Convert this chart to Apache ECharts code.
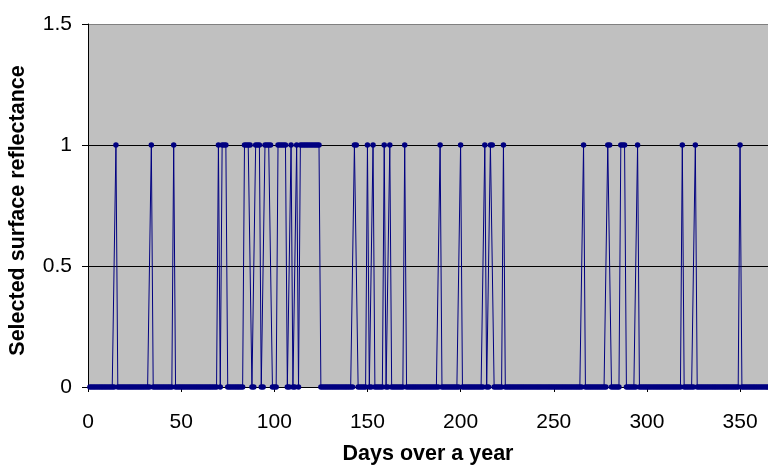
<!DOCTYPE html>
<html>
<head>
<meta charset="utf-8">
<script src="https://cdn.jsdelivr.net/npm/echarts@6/dist/echarts.min.js"></script>
<style>
html,body{margin:0;padding:0;background:#fff;}
#chart{width:768px;height:466px;}
</style>
</head>
<body>
<div id="chart"></div>
<script>
// Daily selected surface reflectance, day 1 .. day 365 (10 values per row)
const firstDay = 1;
const reflectance = [
  0,0,0,0,0,0,0,0,0,0,
  0,0,0,0,1,0,0,0,0,0,
  0,0,0,0,0,0,0,0,0,0,
  0,0,0,1,0,0,0,0,0,0,
  0,0,0,0,0,1,0,0,0,0,
  0,0,0,0,0,0,0,0,0,0,
  0,0,0,0,0,0,0,0,0,1,
  0,1,1,1,0,0,0,0,0,0,
  0,0,0,1,1,1,1,0,0,1,
  1,1,0,0,1,1,1,1,0,0,
  0,1,1,1,1,1,0,0,1,0,
  0,1,0,1,1,1,1,1,1,1,
  1,1,1,1,0,0,0,0,0,0,
  0,0,0,0,0,0,0,0,0,0,
  0,0,1,1,0,0,0,0,0,1,
  0,0,1,0,0,0,0,0,1,0,
  0,1,0,0,0,0,0,0,0,1,
  0,0,0,0,0,0,0,0,0,0,
  0,0,0,0,0,0,0,0,1,0,
  0,0,0,0,0,0,0,0,0,1,
  0,0,0,0,0,0,0,0,0,0,
  0,0,1,0,0,1,1,0,0,0,
  0,0,1,0,0,0,0,0,0,0,
  0,0,0,0,0,0,0,0,0,0,
  0,0,0,0,0,0,0,0,0,0,
  0,0,0,0,0,0,0,0,0,0,
  0,0,0,0,0,1,0,0,0,0,
  0,0,0,0,0,0,0,0,1,1,
  0,0,0,0,0,1,1,1,0,0,
  0,0,0,0,1,0,0,0,0,0,
  0,0,0,0,0,0,0,0,0,0,
  0,0,0,0,0,0,0,0,1,0,
  0,0,0,0,0,1,0,0,0,0,
  0,0,0,0,0,0,0,0,0,0,
  0,0,0,0,0,0,0,0,0,1,
  0,0,0,0,0,0,0,0,0,0,
  0,0,0,0,0
];
const xTicks = [0, 50, 100, 150, 200, 250, 300, 350];
const yTicks = [0, 0.5, 1, 1.5];
const xTitle = 'Days over a year';
const yTitle = 'Selected surface reflectance';

const points = reflectance.map((v, i) => [firstDay + i, v]);

const chart = echarts.init(document.getElementById('chart'), null, {renderer: 'canvas'});
const font = '"Liberation Sans", Arial, sans-serif';
chart.setOption({
  animation: false,
  backgroundColor: '#ffffff',
  grid: {
    left: 88, right: 0, top: 24, bottom: 79,
    containLabel: false, outerBoundsMode: 'none',
    show: true, backgroundColor: '#c0c0c0', borderWidth: 0
  },
  xAxis: {
    type: 'value',
    min: xTicks[0], max: 365, interval: xTicks[1] - xTicks[0],
    axisLine: {show: true, onZero: false, lineStyle: {color: '#000', width: 1}},
    axisTick: {show: true, length: 5, lineStyle: {color: '#000'}},
    axisLabel: {
      show: true, showMaxLabel: false, margin: 25,
      color: '#000', fontFamily: font, fontSize: 21,
      formatter: v => xTicks.includes(v) ? String(v) : ''
    },
    splitLine: {show: false},
    name: xTitle, nameLocation: 'middle', nameGap: 56,
    nameTextStyle: {color: '#000', fontFamily: font, fontSize: 21.5, fontWeight: 'bold'}
  },
  yAxis: {
    type: 'value',
    min: yTicks[0], max: yTicks[yTicks.length - 1], interval: yTicks[1] - yTicks[0],
    axisLine: {show: true, lineStyle: {color: '#000', width: 1}},
    axisTick: {show: true, length: 6, lineStyle: {color: '#000'}},
    axisLabel: {margin: 16, color: '#000', fontFamily: font, fontSize: 21},
    splitLine: {show: true, lineStyle: {color: ['#000', '#000', '#000', '#808080'], width: 1}},
    name: yTitle, nameLocation: 'middle', nameGap: 59, nameRotate: 90,
    nameTextStyle: {color: '#000', fontFamily: font, fontSize: 21.5, fontWeight: 'bold', padding: [0, 10, 0, 0]}
  },
  series: [{
    type: 'line',
    data: points,
    showAllSymbol: true,
    symbol: 'circle',
    symbolSize: 5.5,
    lineStyle: {color: '#000080', width: 1},
    itemStyle: {color: '#000080', borderWidth: 0},
    emphasis: {disabled: true}
  }]
});
</script>
</body>
</html>
